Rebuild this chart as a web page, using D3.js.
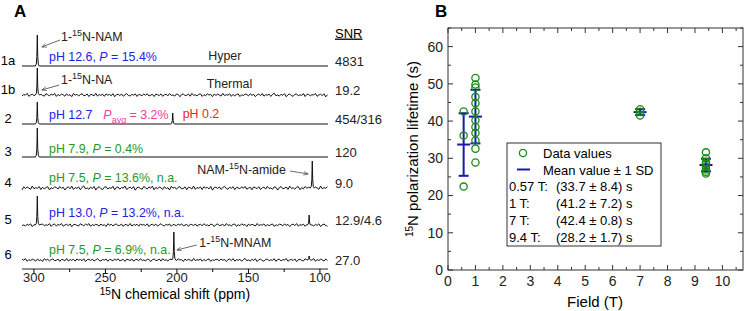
<!DOCTYPE html>
<html>
<head>
<meta charset="utf-8">
<script src="https://cdn.jsdelivr.net/npm/d3@7"></script>
<style>
  body { margin: 0; background: #fff; }
  svg { font-family: "Liberation Sans", Arial, sans-serif; }
</style>
</head>
<body>
<div id="chart"></div>
<script>
// ---------- Panel A data ----------
const rowLabels = ['1a', '1b', '2', '3', '4', '5', '6'];
// vertical stacking offset of each spectrum (intensity units)
const rowOffsets = [203, 174, 145, 112, 81, 44, 9];
const snrLabels = ['4831', '19.2', '454/316', '120', '9.0', '12.9/4.6', '27.0'];
// noise amplitude per spectrum (0 = clean baseline)
const noiseAmp = [0, 1.1, 0, 0, 1.3, 1.0, 1.0];
// peaks per spectrum: [ppm, height]
const rowPeaks = [
  [[297.3, 31]],
  [[297.3, 27]],
  [[297.3, 22], [202.6, 11]],
  [[297.3, 29]],
  [[105.0, 27]],
  [[297.3, 29], [107.2, 10]],
  [[201.8, 28], [107.2, 4]]
];
// line shape of a single peak: [ppm offset, fraction of height]
const peakShape = [[-1.4, 0], [-0.7, 0.06], [-0.3, 0.3], [0, 1], [0.3, 0.3], [0.7, 0.06], [1.4, 0]];
// hand-picked baseline noise, one value every 1.2 ppm
const noise = [0.4, -0.8, 1.1, -0.3, 0.6, -1.5, 0.2, 0.9, -0.6, 1.4, -1.1, 0.3, -0.2, 0.8, -1.3, 0.5,
  1.6, -0.7, 0.1, -1.0, 0.7, -0.4, 1.2, -1.6, 0.3, 0.9, -0.5, -1.2, 0.6, 1.0, -0.8, 0.2, -0.3, 1.3,
  -1.4, 0.5, 0.8, -0.9, 0.4, -0.1, 1.5, -1.2, 0.0, 0.7, -0.6, 1.1, -1.7, 0.3, 0.6, -0.4, -1.0, 1.2,
  0.2, -0.8, 0.9, -0.2, 1.4, -1.3, 0.5, -0.6, 0.8, 0.1, -1.1, 1.0, -0.5, 0.3, -1.5, 1.3, -0.2, 0.7,
  -0.9, 0.4, 1.1, -0.7, -0.3, 0.9, -1.4, 0.6, 0.2, -0.8, 1.5, -1.0, 0.4, -0.3, 0.8, -1.2, 1.0, -0.1,
  0.5, -0.7, 1.2, -1.6, 0.3, 0.7, -0.5, 0.9, -1.1, 0.2, 1.3, -0.4, -0.9, 0.6, -0.2, 1.0, -1.3, 0.5,
  0.1, -0.6, 0.9, -0.3, 1.2, -0.9, -0.1, 0.6, -1.4, 0.8, 0.3, -0.5, 1.0, -1.2, 0.2, 0.7, -0.8, 1.3,
  -0.4, 0.1, -1.0, 0.9, 0.5, -1.6, 0.4, 1.1, -0.6, -0.2, 0.8, -1.1, 1.4, -0.3, 0.2, -0.9, 0.6, 1.0,
  -1.3, 0.3, -0.7, 1.2, -0.1, 0.5, -1.5, 0.9, -0.4, 0.7, 0.0, -1.0, 1.5, -0.6, 0.3, -0.2, 1.1, -1.2,
  0.6, -0.8, 0.4, 1.0, -1.4, 0.2, -0.5, 0.8];
const ppmTicks = [300, 250, 200, 150, 100];
const ppmMinorTicks = [275, 225, 175, 125];

// ---------- Panel B data ----------
const fields = [0.57, 1, 7, 9.4];
const lifetimes = [
  [42.6, 36.1, 22.4],
  [51.6, 49.8, 49.0, 46.5, 44.8, 42.6, 40.2, 38.4, 36.8, 34.8, 32.6, 28.9],
  [43.2, 42.5, 41.5],
  [31.6, 30.0, 29.0, 28.5, 27.8, 27.0, 26.4, 25.9]
];
const means = [33.7, 41.2, 42.4, 28.2];
const sds = [8.4, 7.2, 0.8, 1.7];
const legendRows = [['0.57 T:', '(33.7 \u00b1 8.4) s'], ['1 T:', '(41.2 \u00b1 7.2) s'],
  ['7 T:', '(42.4 \u00b1 0.8) s'], ['9.4 T:', '(28.2 \u00b1 1.7) s']];

const W = 750, H = 311;
const BLUE = '#2222e6', GREEN = '#1e9a1e', PINK = '#ec3c9e', RED = '#ee1c1c';
const svg = d3.select('#chart').append('svg').attr('width', W).attr('height', H);

// ================= Panel A =================
const xA = d3.scaleLinear().domain([308, 94]).range([22, 328]);
const yA = d3.scaleLinear().domain([0, 250]).range([269, 19]);

svg.append('text').attr('x', 14).attr('y', 17).attr('font-size', 17)
  .attr('font-weight', 'bold').text('A');

function spectrumPoints(i) {
  const pts = [];
  const pk = rowPeaks[i];
  const nearPeak = p => pk.some(d => Math.abs(d[0] - p) < 1.6);
  if (noiseAmp[i] > 0) {
    const shift = i * 37;
    for (let k = 0; k * 1.2 <= 214; k++) {
      const p = 308 - k * 1.2;
      if (nearPeak(p)) continue;
      pts.push([p, noise[(k + shift) % noise.length] * noiseAmp[i]]);
    }
  } else {
    pts.push([308, 0], [94, 0]);
  }
  pk.forEach(([c, h]) => peakShape.forEach(([dp, f]) => pts.push([c + dp, f * h])));
  return pts.sort((a, b) => b[0] - a[0]);
}

const line = d3.line().x(d => xA(d[0])).y(d => d[1]);
rowLabels.forEach((lab, i) => {
  const pts = spectrumPoints(i).map(d => [d[0], yA(rowOffsets[i] + d[1])]);
  svg.append('path').attr('d', line(pts)).attr('fill', 'none')
    .attr('stroke', '#111').attr('stroke-width', 1);
  svg.append('text').attr('x', 8).attr('y', yA(rowOffsets[i] + 6)).attr('dy', '0.35em')
    .attr('text-anchor', 'middle').attr('font-size', 13).text(lab);
  svg.append('text').attr('x', 335).attr('y', yA(rowOffsets[i] + (i === 6 ? 0 : 5)))
    .attr('dy', '0.35em').attr('font-size', 13).attr('fill', '#222').text(snrLabels[i]);
});

// SNR header
svg.append('text').attr('x', 335).attr('y', 33).attr('dy', '0.35em')
  .attr('font-size', 13).attr('text-decoration', 'underline').text('SNR');

// bottom axis
svg.append('line').attr('x1', xA(308)).attr('x2', xA(94)).attr('y1', yA(0)).attr('y2', yA(0))
  .attr('stroke', '#222').attr('stroke-width', 1);
const axA = svg.append('g').attr('transform', `translate(0,${yA(0)})`)
  .call(d3.axisBottom(xA).tickValues(ppmTicks).tickSize(5).tickPadding(1));
axA.select('.domain').remove();
axA.selectAll('.tick text').attr('font-size', 13).attr('fill', '#222').attr('dy', '0.55em')
  .attr('font-family', '"Liberation Sans", Arial, sans-serif');
svg.append('g').attr('transform', `translate(0,${yA(0)})`)
  .call(d3.axisBottom(xA).tickValues(ppmMinorTicks).tickSize(3).tickFormat(''))
  .select('.domain').remove();
svg.append('text').attr('x', 175).attr('y', 299).attr('dy', '0.35em').attr('text-anchor', 'middle')
  .attr('font-size', 14)
  .html('<tspan font-size="10" dy="-4">15</tspan><tspan dy="4">N chemical shift (ppm)</tspan>');

// sample annotations, positioned in (ppm, intensity)
function note(ppm, inten, html, color) {
  svg.append('text').attr('x', xA(ppm)).attr('y', yA(inten)).attr('dy', '0.35em')
    .attr('font-size', 12.4).attr('fill', color || '#222').html(html);
}
const sup = s => `<tspan font-size="9" dy="-5">${s}</tspan><tspan dy="5">`;
note(280.7, 232, `1-${sup('15')}N-NAM</tspan>`);
note(280.7, 189, `1-${sup('15')}N-NA</tspan>`);
note(177.7, 213, 'Hyper');
note(178.8, 185, 'Thermal');
note(185.4, 99, `NAM-${sup('15')}N-amide</tspan>`);
note(184, 26, `1-${sup('15')}N-MNAM</tspan>`);
note(289.1, 212, 'pH 12.6, <tspan font-style="italic">P</tspan> = 15.4%', BLUE);
note(289.1, 154, 'pH 12.7', BLUE);
note(251.1, 154, '<tspan font-style="italic">P</tspan><tspan font-size="9" dy="4">avg</tspan><tspan dy="-4"> = 3.2%</tspan>', PINK);
note(195.6, 155, 'pH 0.2', RED);
note(289.1, 120, 'pH 7.9, <tspan font-style="italic">P</tspan> = 0.4%', GREEN);
note(289.1, 91, 'pH 7.5, <tspan font-style="italic">P</tspan> = 13.6%, n.a.', GREEN);
note(289.1, 56, 'pH 13.0, <tspan font-style="italic">P</tspan> = 13.2%, n.a.', BLUE);
note(289.1, 19, 'pH 7.5, <tspan font-style="italic">P</tspan> = 6.9%, n.a.', GREEN);

// arrows
svg.append('defs').append('marker').attr('id', 'arr').attr('viewBox', '0 0 10 10')
  .attr('refX', 10).attr('refY', 5).attr('markerWidth', 6).attr('markerHeight', 6)
  .attr('orient', 'auto').append('path').attr('d', 'M0,1L10,5L0,9').attr('fill', 'none')
  .attr('stroke', '#333').attr('stroke-width', 1.2);
[[281.4, 229, 294.2, 222], [281.9, 184, 294.2, 179], [120.6, 98, 107.8, 95], [185.8, 24, 199.8, 19]]
  .forEach(a => svg.append('line').attr('x1', xA(a[0])).attr('y1', yA(a[1]))
    .attr('x2', xA(a[2])).attr('y2', yA(a[3])).attr('stroke', '#444').attr('stroke-width', 0.8)
    .attr('marker-end', 'url(#arr)'));

// ================= Panel B =================
const xB = d3.scaleLinear().domain([0, 10.75]).range([448, 743]);
const yB = d3.scaleLinear().domain([0, 65]).range([270, 28]);

svg.append('text').attr('x', 435).attr('y', 17).attr('font-size', 17)
  .attr('font-weight', 'bold').text('B');

const gB = svg.append('g');
gB.append('rect').attr('x', xB(0)).attr('y', yB(65)).attr('width', xB(10.75) - xB(0))
  .attr('height', yB(0) - yB(65)).attr('fill', 'none').attr('stroke', '#333').attr('stroke-width', 1);

const xMaj = d3.range(0, 11, 1), xMin = d3.range(0.5, 10.6, 1);
const yMaj = d3.range(0, 61, 10), yMin = d3.range(5, 66, 10);
function ticksBx(vals, len) {
  vals.forEach(v => {
    gB.append('line').attr('x1', xB(v)).attr('x2', xB(v)).attr('y1', yB(0)).attr('y2', yB(0) - len).attr('stroke', '#333');
    gB.append('line').attr('x1', xB(v)).attr('x2', xB(v)).attr('y1', yB(65)).attr('y2', yB(65) + len).attr('stroke', '#333');
  });
}
function ticksBy(vals, len) {
  vals.forEach(v => {
    gB.append('line').attr('y1', yB(v)).attr('y2', yB(v)).attr('x1', xB(0)).attr('x2', xB(0) + len).attr('stroke', '#333');
    gB.append('line').attr('y1', yB(v)).attr('y2', yB(v)).attr('x1', xB(10.75)).attr('x2', xB(10.75) - len).attr('stroke', '#333');
  });
}
ticksBx(xMaj, 5); ticksBx(xMin, 3); ticksBy(yMaj, 5); ticksBy(yMin, 3);

xMaj.forEach(v => gB.append('text').attr('x', xB(v)).attr('y', 281).attr('dy', '0.35em')
  .attr('text-anchor', 'middle').attr('font-size', 14).attr('fill', '#222').text(v));
yMaj.forEach(v => gB.append('text').attr('x', 443).attr('y', yB(v)).attr('dy', '0.35em')
  .attr('text-anchor', 'end').attr('font-size', 14).attr('fill', '#222').text(v));
gB.append('text').attr('x', 595).attr('y', 302).attr('dy', '0.35em').attr('text-anchor', 'middle')
  .attr('font-size', 15).text('Field (T)');
gB.append('text').attr('transform', 'translate(418,149) rotate(-90)').attr('dy', '0.35em')
  .attr('text-anchor', 'middle').attr('font-size', 15)
  .html('<tspan font-size="10" dy="-5">15</tspan><tspan dy="5">N polarization lifetime (s)</tspan>');

// error bars
fields.forEach((f, i) => {
  const cx = xB(f), lo = yB(means[i] - sds[i]), hi = yB(means[i] + sds[i]), m = yB(means[i]);
  const eb = gB.append('g').attr('stroke', '#1a1aa8').attr('stroke-width', 2);
  eb.append('line').attr('x1', cx).attr('x2', cx).attr('y1', lo).attr('y2', hi);
  eb.append('line').attr('x1', cx - 5).attr('x2', cx + 5).attr('y1', lo).attr('y2', lo);
  eb.append('line').attr('x1', cx - 5).attr('x2', cx + 5).attr('y1', hi).attr('y2', hi);
  eb.append('line').attr('x1', cx - 6.5).attr('x2', cx + 6.5).attr('y1', m).attr('y2', m);
});
// data points
fields.forEach((f, i) => {
  gB.selectAll(null).data(lifetimes[i]).enter().append('circle')
    .attr('cx', xB(f)).attr('cy', d => yB(d)).attr('r', 3.6)
    .attr('fill', 'none').attr('stroke', '#1a8a1a').attr('stroke-width', 1.3);
});

// legend
const lg = gB.append('g');
lg.append('rect').attr('x', 507).attr('y', 143).attr('width', 154).attr('height', 103)
  .attr('fill', '#fff').attr('stroke', '#333').attr('stroke-width', 1);
lg.append('circle').attr('cx', 523).attr('cy', 153).attr('r', 3.6).attr('fill', 'none')
  .attr('stroke', '#1a8a1a').attr('stroke-width', 1.3);
lg.append('line').attr('x1', 517).attr('x2', 530).attr('y1', 169.5).attr('y2', 169.5)
  .attr('stroke', '#1a1aa8').attr('stroke-width', 2);
lg.append('text').attr('x', 543).attr('y', 153).attr('dy', '0.35em').attr('font-size', 13).text('Data values');
lg.append('text').attr('x', 543).attr('y', 170).attr('dy', '0.35em').attr('font-size', 13).text('Mean value \u00b1 1 SD');
legendRows.forEach((r, k) => {
  const y = 186.5 + k * 17;
  lg.append('text').attr('x', 509).attr('y', y).attr('dy', '0.35em').attr('font-size', 13).text(r[0]);
  lg.append('text').attr('x', 556).attr('y', y).attr('dy', '0.35em').attr('font-size', 13).text(r[1]);
});
</script>
</body>
</html>
